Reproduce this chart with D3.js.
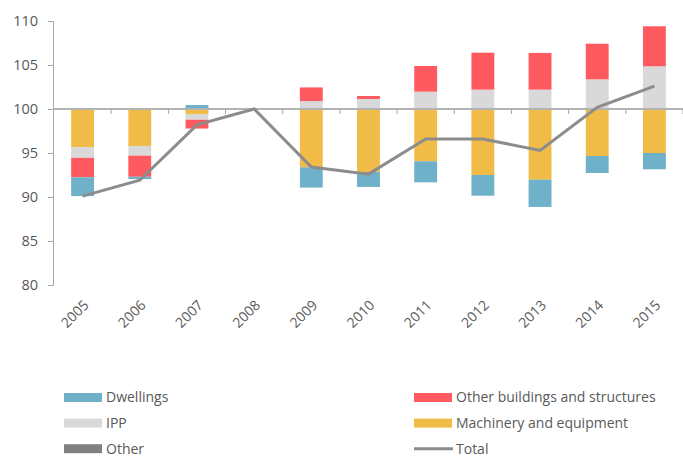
<!DOCTYPE html>
<meta charset="utf-8">
<script src="https://d3js.org/d3.v7.min.js"></script>
<style>
    body { margin: 0; background: #fff; }
    text { font-family: "Open Sans", sans-serif; fill: #595959; }
</style>
<div id="chart"></div>
<script>
    // data (contributions to the index, 2008 = 100)
    var years = ["2005", "2006", "2007", "2008", "2009", "2010", "2011", "2012", "2013", "2014", "2015"];
    var dwellings      = [-2.15, -0.26,  0.45, 0, -2.30, -1.70, -2.39, -2.35, -3.10, -1.93, -1.85];
    var ipp            = [-1.20, -1.10, -0.65, 0,  0.90,  1.14,  1.97,  2.20,  2.20,  3.37,  4.85];
    var otherBuildings = [-2.20, -2.40, -1.00, 0,  1.55,  0.34,  2.92,  4.20,  4.17,  4.05,  4.55];
    var machinery      = [-4.35, -4.20, -0.57, 0, -6.63, -7.16, -5.94, -7.50, -8.03, -5.34, -5.00];
    var other          = [0, 0, 0, 0, 0, 0, 0, 0, 0, 0, 0];
    var total          = [90.1, 91.9, 98.2, 100, 93.4, 92.6, 96.6, 96.6, 95.3, 100.2, 102.6];
    var yTicks = [80, 85, 90, 95, 100, 105, 110];
    var base = 100;

    var series = [
        {key: "Machinery and equipment", values: machinery, color: "#f0bc47"},
        {key: "IPP", values: ipp, color: "#d9d9d9"},
        {key: "Other buildings and structures", values: otherBuildings, color: "#ff5a5f"},
        {key: "Dwellings", values: dwellings, color: "#6fb1c8"},
        {key: "Other", values: other, color: "#808080"}
    ];

    var margin = {top: 21, right: 0, bottom: 172, left: 53},
        width = 683 - margin.left - margin.right,
        height = 457 - margin.top - margin.bottom;

    var svg = d3.select("#chart")
        .append("svg")
        .attr("width", 683)
        .attr("height", 457);

    var g = svg.append("g")
        .attr("transform", "translate(" + margin.left + "," + margin.top + ")");

    // build the rows for d3.stack
    var rows = years.map(function(yr, i) {
        var r = {year: yr};
        series.forEach(function(s) { r[s.key] = s.values[i]; });
        return r;
    });

    var stacked = d3.stack()
        .keys(series.map(function(s) { return s.key; }))
        .offset(d3.stackOffsetDiverging)
        (rows);

    var x = d3.scaleBand()
        .domain(years)
        .range([1, width])
        .paddingInner(0.6)
        .paddingOuter(0.3);

    var y = d3.scaleLinear()
        .domain([80, 110])
        .range([height, 0]);

    // Y axis
    var yAxis = g.append("g")
        .call(d3.axisLeft(y).tickValues(yTicks).tickSize(5).tickPadding(10));
    yAxis.select(".domain").attr("stroke", "#a6a6a6");
    yAxis.selectAll(".tick line").attr("stroke", "#a6a6a6");
    yAxis.selectAll("text")
        .style("font-size", "14.5px")
        .attr("fill", "#595959");

    // bars
    g.selectAll(".layer")
        .data(stacked)
        .enter()
        .append("g")
        .attr("class", "layer")
        .attr("fill", function(d, i) { return series[i].color; })
        .selectAll("rect")
        .data(function(d) { return d; })
        .enter()
        .append("rect")
        .attr("x", function(d) { return x(d.data.year); })
        .attr("width", x.bandwidth())
        .attr("y", function(d) { return y(base + d[1]); })
        .attr("height", function(d) { return Math.abs(y(base + d[0]) - y(base + d[1])); });

    // X axis at 100
    var xAxis = g.append("g")
        .attr("transform", "translate(0," + y(base) + ")");
    xAxis.append("line")
        .attr("x1", 0)
        .attr("x2", width)
        .attr("stroke", "#b3b3b3")
        .attr("stroke-width", 2);
    var step = x.step();
    xAxis.selectAll(".xt")
        .data(years)
        .enter()
        .append("line")
        .attr("class", "xt")
        .attr("x1", function(d) { return x(d) + x.bandwidth() / 2 + step / 2; })
        .attr("x2", function(d) { return x(d) + x.bandwidth() / 2 + step / 2; })
        .attr("y1", 0)
        .attr("y2", 5)
        .attr("stroke", "#a6a6a6");

    // x labels, rotated
    g.selectAll(".xlabel")
        .data(years)
        .enter()
        .append("text")
        .attr("class", "xlabel")
        .attr("text-anchor", "end")
        .style("font-size", "14px")
        .attr("transform", function(d) {
            return "translate(" + (x(d) + x.bandwidth() / 2 + 7) + "," + (height + 21) + ") rotate(-45)";
        })
        .text(function(d) { return d; });

    // total line
    g.append("path")
        .datum(total)
        .attr("fill", "none")
        .attr("stroke", "#8c8c8c")
        .attr("stroke-width", 3)
        .attr("d", d3.line()
            .x(function(d, i) { return x(years[i]) + x.bandwidth() / 2; })
            .y(function(d) { return y(d); }));

    // legend
    var legendItems = [
        {key: "Dwellings", color: "#6fb1c8", type: "rect", col: 0, row: 0},
        {key: "IPP", color: "#d9d9d9", type: "rect", col: 0, row: 1},
        {key: "Other", color: "#808080", type: "rect", col: 0, row: 2},
        {key: "Other buildings and structures", color: "#ff5a5f", type: "rect", col: 1, row: 0},
        {key: "Machinery and equipment", color: "#f0bc47", type: "rect", col: 1, row: 1},
        {key: "Total", color: "#8c8c8c", type: "line", col: 1, row: 2}
    ];
    var legend = svg.append("g");
    var lg = legend.selectAll(".lg")
        .data(legendItems)
        .enter()
        .append("g")
        .attr("transform", function(d) {
            return "translate(" + (d.col ? 414 : 64) + "," + (397.5 + d.row * 25.6) + ")";
        });
    lg.filter(function(d) { return d.type === "rect"; })
        .append("rect")
        .attr("x", 0).attr("y", -4.5)
        .attr("width", 38).attr("height", 9)
        .attr("fill", function(d) { return d.color; });
    lg.filter(function(d) { return d.type === "line"; })
        .append("line")
        .attr("x1", 0).attr("x2", 39)
        .attr("stroke", function(d) { return d.color; })
        .attr("stroke-width", 3);
    lg.append("text")
        .attr("x", 42)
        .attr("dy", "0.35em")
        .style("font-size", "14px")
        .text(function(d) { return d.key; });
</script>
